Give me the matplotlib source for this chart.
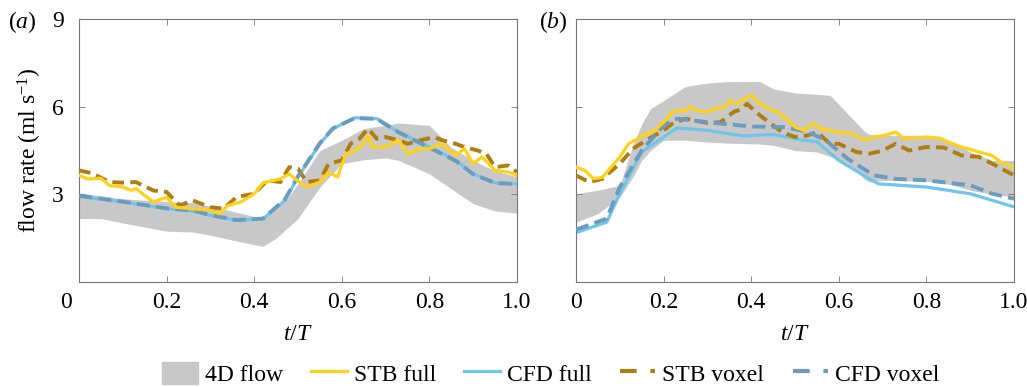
import matplotlib
matplotlib.use('Agg')
import matplotlib.pyplot as plt
import matplotlib.patches as mpatches
import matplotlib.transforms as mtransforms
from matplotlib.lines import Line2D

plt.rcParams['font.family'] = ['Liberation Serif', 'DejaVu Serif']
plt.rcParams['mathtext.fontset'] = 'custom'
plt.rcParams['mathtext.rm'] = 'Liberation Serif'
plt.rcParams['mathtext.it'] = 'Liberation Serif:italic'

# ---- panel (a) ----
A_BAND_X = [0, 0.05, 0.1, 0.2, 0.26, 0.3, 0.37, 0.42, 0.45, 0.47, 0.5, 0.55, 0.6, 0.65,
            0.7, 0.73, 0.8, 0.85, 0.9, 0.95, 1.0]
A_BAND_HI = [3.05, 2.95, 2.85, 2.75, 2.72, 2.6, 2.35, 2.17, 2.6, 2.75, 3.36, 4.5, 4.85, 5.25,
             5.36, 5.44, 5.36, 4.6, 4.16, 3.8, 3.6]
A_BAND_LO = [2.17, 2.17, 2.02, 1.74, 1.71, 1.6, 1.37, 1.22, 1.5, 1.77, 2.17, 3.25, 4.05, 4.18,
             4.25, 4.16, 3.7, 3.19, 2.68, 2.43, 2.36]

A_CFD_X = [0, 0.1, 0.2, 0.26, 0.3, 0.36, 0.42, 0.47, 0.5, 0.55, 0.58, 0.63, 0.68, 0.73,
           0.8, 0.86, 0.9, 0.95, 1.0]
A_CFD_FULL = [2.93, 2.74, 2.51, 2.43, 2.28, 2.11, 2.16, 2.79, 3.59, 4.73, 5.25, 5.62, 5.59,
              5.13, 4.62, 4.16, 3.7, 3.39, 3.36]
A_CFD_VOX = [2.95, 2.75, 2.52, 2.45, 2.29, 2.12, 2.17, 2.82, 3.62, 4.75, 5.26, 5.61, 5.58,
             5.12, 4.6, 4.15, 3.69, 3.39, 3.35]

A_STB_FULL_X = [0, 0.02, 0.05, 0.07, 0.1, 0.12, 0.13, 0.15, 0.17, 0.2, 0.22, 0.26, 0.3, 0.32,
                0.34, 0.37, 0.4, 0.42, 0.46, 0.48, 0.5, 0.52, 0.55, 0.57, 0.59, 0.61, 0.63,
                0.65, 0.66, 0.67, 0.7, 0.73, 0.75, 0.78, 0.8, 0.83, 0.86, 0.88, 0.9, 0.92,
                0.95, 0.98, 1.0]
A_STB_FULL = [3.65, 3.53, 3.55, 3.3, 3.25, 3.13, 3.2, 2.96, 2.74, 2.9, 2.56, 2.51, 2.45, 2.34,
              2.62, 2.74, 3.02, 3.39, 3.53, 3.7, 3.45, 3.25, 3.42, 3.76, 3.59, 4.39, 4.5,
              4.73, 5.0, 4.62, 4.62, 4.85, 4.39, 4.56, 4.56, 4.73, 4.33, 4.56, 4.05, 4.28,
              3.82, 3.76, 3.65]

A_STB_VOX_X = [0, 0.03, 0.07, 0.1, 0.13, 0.17, 0.2, 0.23, 0.26, 0.3, 0.33, 0.36, 0.4, 0.43,
               0.46, 0.48, 0.5, 0.52, 0.55, 0.57, 0.6, 0.62, 0.64, 0.66, 0.68, 0.7, 0.73,
               0.75, 0.78, 0.81, 0.83, 0.86, 0.88, 0.91, 0.93, 0.95, 0.98, 1.0]
A_STB_VOX = [3.82, 3.72, 3.42, 3.4, 3.42, 3.13, 3.08, 2.62, 2.79, 2.56, 2.51, 2.91, 3.02,
             3.48, 3.42, 3.93, 3.88, 3.42, 3.48, 4.05, 4.16, 4.73, 4.9, 5.25, 4.9, 4.96,
             4.85, 4.73, 4.85, 4.96, 4.85, 4.73, 4.62, 4.5, 4.39, 3.93, 3.99, 3.76]

# ---- panel (b) ----
B_BAND_X = [0, 0.05, 0.1, 0.13, 0.15, 0.17, 0.2, 0.25, 0.3, 0.35, 0.42, 0.45, 0.5, 0.55,
            0.58, 0.62, 0.66, 0.67, 0.7, 0.8, 0.85, 0.9, 0.95, 1.0]
B_BAND_HI = [3.02, 3.14, 3.31, 4.7, 5.4, 5.93, 6.21, 6.69, 6.81, 6.86, 6.86, 6.61, 6.47, 6.42,
             6.39, 5.76, 5.13, 5.05, 5.02, 5.02, 4.85, 4.45, 4.16, 4.16]
B_BAND_LO = [2.05, 2.34, 2.9, 3.6, 4.16, 4.5, 4.85, 4.85, 4.79, 4.75, 4.72, 4.68, 4.5, 4.45,
             4.3, 4.05, 3.5, 3.42, 3.48, 3.45, 3.35, 3.14, 3.0, 2.91]

B_CFD_FULL_X = [0, 0.07, 0.1, 0.15, 0.2, 0.23, 0.3, 0.38, 0.45, 0.52, 0.55, 0.6, 0.65, 0.69,
                0.8, 0.9, 1.0]
B_CFD_FULL = [1.69, 2.05, 3.02, 4.45, 4.96, 5.27, 5.19, 5.0, 5.05, 4.85, 4.8, 4.16, 3.71,
              3.36, 3.25, 3.02, 2.57]
B_CFD_VOX_X = [0, 0.07, 0.1, 0.15, 0.2, 0.23, 0.3, 0.4, 0.48, 0.53, 0.57, 0.62, 0.68, 0.73,
               0.8, 0.9, 0.95, 1.0]
B_CFD_VOX = [1.79, 2.17, 3.25, 4.5, 5.36, 5.59, 5.47, 5.32, 5.3, 5.13, 4.85, 4.22, 3.65,
             3.53, 3.48, 3.31, 3.02, 2.85]

B_STB_FULL_X = [0, 0.02, 0.04, 0.06, 0.08, 0.1, 0.12, 0.14, 0.16, 0.18, 0.2, 0.22, 0.25,
                0.26, 0.28, 0.3, 0.32, 0.34, 0.35, 0.37, 0.38, 0.4, 0.42, 0.44, 0.46, 0.48,
                0.5, 0.52, 0.54, 0.56, 0.6, 0.63, 0.66, 0.68, 0.7, 0.73, 0.75, 0.8, 0.83,
                0.86, 0.88, 0.92, 0.95, 0.97, 1.0]
B_STB_FULL = [3.93, 3.82, 3.53, 3.58, 3.93, 4.28, 4.73, 4.9, 5.07, 5.19, 5.47, 5.82, 5.87,
              5.99, 5.85, 5.82, 5.93, 5.99, 6.21, 6.1, 6.24, 6.39, 6.1, 5.93, 5.82, 5.59,
              5.3, 5.19, 5.42, 5.24, 5.13, 5.07, 4.85, 4.96, 5.0, 5.13, 4.9, 4.96, 4.92,
              4.73, 4.62, 4.45, 4.33, 4.1, 3.93]

B_STB_VOX_X = [0, 0.03, 0.06, 0.1, 0.13, 0.16, 0.2, 0.22, 0.25, 0.3, 0.33, 0.36, 0.38, 0.39,
               0.42, 0.45, 0.47, 0.5, 0.53, 0.55, 0.58, 0.6, 0.64, 0.67, 0.7, 0.73, 0.76,
               0.8, 0.84, 0.88, 0.92, 0.95, 1.0]
B_STB_VOX = [3.65, 3.42, 3.53, 4.05, 4.56, 4.85, 5.19, 5.42, 5.59, 5.44, 5.47, 5.82, 5.93,
             6.1, 5.7, 5.36, 5.13, 4.96, 5.02, 5.13, 4.73, 4.73, 4.45, 4.39, 4.5, 4.73, 4.5,
             4.62, 4.6, 4.33, 4.28, 4.05, 3.65]

XTICKS = [0, 0.2, 0.4, 0.6, 0.8, 1.0]
XTICKLABELS = ['0', '0.2', '0.4', '0.6', '0.8', '1.0']
YTICKS = [3, 6, 9]

GREY = '#c8c8c8'
YELLOW = '#ffd21a'
LBLUE = '#6ec6ea'
BROWN = '#b07d10'
DBLUE = '#6b9cc0'
STB_DASH = (3.0, 1.6)
CFD_DASH = (3.4, 1.6)
LEG_DASH = (4.0, 3.3)
FS = 17

fig = plt.figure(figsize=(10.27, 3.87), dpi=100)
ax_a = fig.add_axes([0.0769, 0.2713, 0.4265, 0.6796])
ax_b = fig.add_axes([0.5609, 0.2713, 0.4265, 0.6796])

panels = [
    (ax_a, '($a$)', -0.13, A_BAND_X, A_BAND_LO, A_BAND_HI,
     (A_STB_FULL_X, A_STB_FULL), (A_CFD_X, A_CFD_FULL),
     (A_STB_VOX_X, A_STB_VOX), (A_CFD_X, A_CFD_VOX)),
    (ax_b, '($b$)', -0.052, B_BAND_X, B_BAND_LO, B_BAND_HI,
     (B_STB_FULL_X, B_STB_FULL), (B_CFD_FULL_X, B_CFD_FULL),
     (B_STB_VOX_X, B_STB_VOX), (B_CFD_VOX_X, B_CFD_VOX)),
]

for ax, tag, tag_x, bx, blo, bhi, stb_f, cfd_f, stb_v, cfd_v in panels:
    ax.fill_between(bx, blo, bhi, color=GREY, linewidth=0, zorder=1)
    ax.plot(*cfd_f, color=LBLUE, lw=2.3, zorder=2)
    ax.plot(*stb_f, color=YELLOW, lw=2.3, zorder=4)
    ax.plot(*stb_v, color=BROWN, lw=2.8, dashes=STB_DASH, zorder=3)
    ax.plot(*cfd_v, color=DBLUE, lw=2.8, dashes=CFD_DASH, zorder=3)

    ax.set_xlim(0, 1)
    ax.set_ylim(0, 9)
    ax.set_xticks(XTICKS)
    ax.set_xticklabels(XTICKLABELS)
    ax.set_yticks(YTICKS)
    ax.tick_params(direction='in', top=True, right=True, length=4, width=0.6,
                   color='#777777', labelsize=FS)
    ax.tick_params(axis='x', pad=7)
    ax.tick_params(axis='y', pad=11)
    for sp in ax.spines.values():
        sp.set_color('#777777')
        sp.set_linewidth(0.8)
    ax.set_xlabel('$t/T$', fontsize=FS, labelpad=8)
    ax.text(tag_x, 0.99, tag, transform=ax.transAxes, fontsize=FS,
            ha='center', va='center')

ax_b.set_yticklabels([])
ax_a.set_ylabel('flow rate (ml s$^{-1}$)', fontsize=FS, labelpad=6)

# in panel (a) the "0" of the x axis sits a little left of its tick
ax_a.set_xticklabels([''] + XTICKLABELS[1:])
shift = mtransforms.ScaledTranslation(-13 / 100, -7 / 72, fig.dpi_scale_trans)
ax_a.text(0, 0, XTICKLABELS[0], fontsize=FS, ha='center', va='top',
          transform=ax_a.get_xaxis_transform() + shift)

handles = [
    mpatches.Patch(color=GREY, label='4D flow'),
    Line2D([], [], color=YELLOW, lw=2.3, label='STB full'),
    Line2D([], [], color=LBLUE, lw=2.3, label='CFD full'),
    Line2D([], [], color=BROWN, lw=3.0, dashes=LEG_DASH, label='STB voxel'),
    Line2D([], [], color=DBLUE, lw=3.0, dashes=LEG_DASH, label='CFD voxel'),
]
fig.legend(handles=handles, loc='center', bbox_to_anchor=(0.5365, 0.034),
           ncol=5, frameon=False, fontsize=FS, handlelength=1.5, handleheight=1.1,
           handletextpad=0.3, columnspacing=1.2, borderpad=0.0)

fig.savefig('out.png', dpi=100)
